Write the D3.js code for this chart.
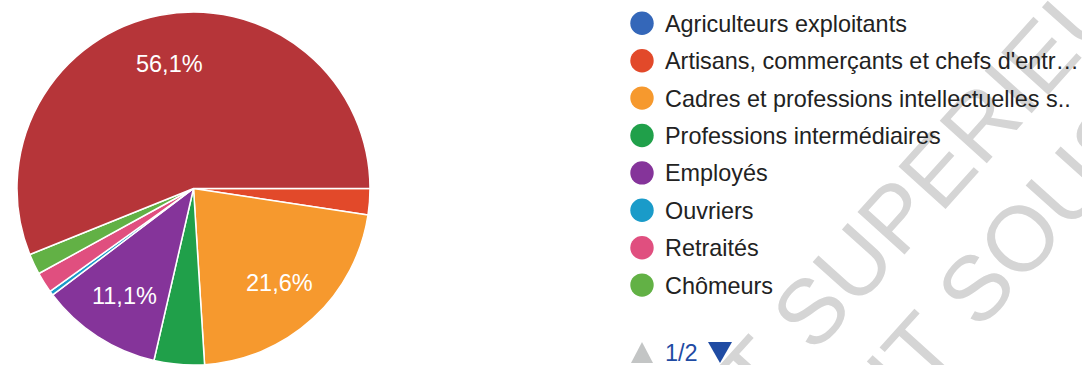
<!DOCTYPE html>
<html>
<head>
<meta charset="utf-8">
<script src="https://cdn.jsdelivr.net/npm/d3@7"></script>
<style>
  html, body { margin: 0; padding: 0; background: #fff; }
  svg { display: block; font-family: "Liberation Sans", Arial, sans-serif; }
</style>
</head>
<body>
<svg id="chart" width="1082" height="365"></svg>
<script>
// Répartition par catégorie socioprofessionnelle (en %)
const categories = [
  "Agriculteurs exploitants",
  "Artisans, commerçants et chefs d'entreprise",
  "Cadres et professions intellectuelles supérieures",
  "Professions intermédiaires",
  "Employés",
  "Ouvriers",
  "Retraités",
  "Chômeurs",
  "Étudiants"
];
const values = [0, 2.4, 21.6, 4.6, 11.1, 0.4, 1.9, 1.9, 56.1];
const colors = ["#3467b9", "#e2492a", "#f6992e", "#20a04a", "#85349a",
                "#1a9bc9", "#e04f7f", "#62b145", "#b63539"];
// Libellés tels qu'affichés dans la légende (page 1 sur 2)
const legendLabels = [
  "Agriculteurs exploitants",
  "Artisans, commerçants et chefs d'entr…",
  "Cadres et professions intellectuelles s..",
  "Professions intermédiaires",
  "Employés",
  "Ouvriers",
  "Retraités",
  "Chômeurs"
];
const pageLabel = "1/2";
// Filigrane : chaque ligne = [texte avant le point d'ancrage, texte après]
const watermarkLines = [["ENSEIGNEMENT", "SUPERIEUR"], ["", "IT SOUS"]];

const svg = d3.select("#chart");

// ---- Filigrane ----
const wmSize = 92;
const wm = svg.append("g")
  .attr("transform", "translate(814,355) rotate(-48)")
  .attr("fill", "#d5d5d5")
  .style("font-size", wmSize + "px");
const wmRows = wm.selectAll("g")
  .data(watermarkLines)
  .join("g")
  .attr("transform", (d, i) => `translate(${i === 0 ? 0 : 22},${i * 107})`);
wmRows.append("text")
  .attr("x", -0.278 * wmSize)
  .attr("text-anchor", "end")
  .text(d => d[0]);
wmRows.append("text")
  .text(d => d[1]);

// ---- Camembert ----
const cx = 193.5, cy = 188.5, radius = 176.5;
const total = d3.sum(values);
const pie = d3.pie()
  .sort(null)
  .value(d => d.value)
  .startAngle(Math.PI / 2)
  .endAngle(Math.PI / 2 + 2 * Math.PI);

const data = categories.map((c, i) => ({ name: c, value: values[i], color: colors[i] }));
const arcs = pie(data);

const arc = d3.arc().innerRadius(0).outerRadius(radius);
const labelArc = d3.arc().innerRadius(radius * 0.72).outerRadius(radius * 0.72);

const gPie = svg.append("g").attr("transform", `translate(${cx},${cy})`);
gPie.selectAll("path")
  .data(arcs.filter(a => a.data.value > 0))
  .join("path")
  .attr("d", arc)
  .attr("fill", d => d.data.color)
  .attr("stroke", "#fff")
  .attr("stroke-width", 1.5)
  .attr("stroke-linejoin", "round");

const fr = d3.formatLocale({ decimal: ",", thousands: " ", grouping: [3], currency: ["", " €"] });
const fmtPct = fr.format(".1f");

gPie.selectAll("text")
  .data(arcs.filter(a => a.data.value / total >= 0.08))
  .join("text")
  .attr("transform", d => `translate(${labelArc.centroid(d)})`)
  .attr("text-anchor", "middle")
  .attr("dy", "0.36em")
  .attr("fill", "#fff")
  .style("font-size", "23.5px")
  .text(d => fmtPct(d.data.value / total * 100) + "%");

// ---- Légende ----
const legendX = 642, legendY0 = 23.3, rowH = 37.4;
const legend = svg.append("g");
const rows = legend.selectAll("g")
  .data(legendLabels)
  .join("g")
  .attr("transform", (d, i) => `translate(${legendX},${legendY0 + i * rowH})`);
rows.append("circle")
  .attr("r", 11.7)
  .attr("fill", (d, i) => colors[i]);
rows.append("text")
  .attr("x", 23)
  .attr("dy", "0.36em")
  .attr("fill", "#222")
  .style("font-size", "23.4px")
  .text(d => d);

// ---- Pagination de la légende ----
const pagY = legendY0 + 7 * rowH + 67.3;
const pager = svg.append("g").attr("transform", `translate(${legendX},${pagY})`);
pager.append("path")
  .attr("d", "M-11,10.5 L11,10.5 L0,-10.5 Z")
  .attr("fill", "#c3c5c5");
pager.append("text")
  .attr("x", 23)
  .attr("dy", "0.36em")
  .attr("fill", "#1f4ba3")
  .style("font-size", "23.5px")
  .text(pageLabel);
pager.append("path")
  .attr("d", "M66,-10.5 L90,-10.5 L78,10.5 Z")
  .attr("fill", "#1f4ba3");
</script>
</body>
</html>
